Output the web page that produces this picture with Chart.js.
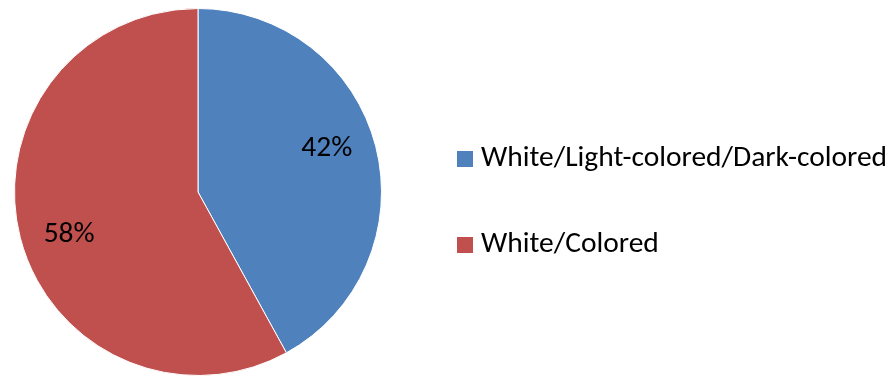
<!DOCTYPE html>
<html>
<head>
<meta charset="utf-8">
<script src="https://cdn.jsdelivr.net/npm/chart.js@4"></script>
<style>
  html, body { margin: 0; padding: 0; background: #fff; }
  #wrap { width: 896px; height: 381px; position: relative; }
</style>
</head>
<body>
<div id="wrap"><canvas id="pie"></canvas></div>
<script>
var categories = ["White/Light-colored/Dark-colored", "White/Colored"];
var shares = [42, 58];
var sliceColors = ["#4F81BD", "#C0504D"];

var FONT = "Carlito, 'Open Sans', sans-serif";

// percentage labels inside slices
var sliceLabels = {
    id: "sliceLabels",
    afterDatasetsDraw: function (chart) {
        var ctx = chart.ctx;
        var meta = chart.getDatasetMeta(0);
        ctx.save();
        ctx.font = "29.5px " + FONT;
        ctx.fillStyle = "#000";
        ctx.textAlign = "center";
        ctx.textBaseline = "middle";
        for (var i = 0; i < meta.data.length; i++) {
            var arc = meta.data[i];
            var mid = (arc.startAngle + arc.endAngle) / 2 - 0.07;
            var r = arc.outerRadius * 0.74;
            var x = arc.x + Math.cos(mid) * r;
            var y = arc.y + Math.sin(mid) * r;
            ctx.fillText(shares[i] + "%", x, y);
        }
        ctx.restore();
    }
};

// legend at the right, drawn by hand to keep the wide spacing
var sideLegend = {
    id: "sideLegend",
    afterDraw: function (chart) {
        var ctx = chart.ctx;
        ctx.save();
        ctx.font = "29.5px " + FONT;
        ctx.textBaseline = "middle";
        ctx.textAlign = "left";
        for (var i = 0; i < categories.length; i++) {
            var y = 159 + i * 86;
            ctx.fillStyle = sliceColors[i];
            ctx.fillRect(457, y - 8, 16, 16);
            ctx.fillStyle = "#000";
            ctx.fillText(categories[i], 481, y);
        }
        ctx.restore();
    }
};

var chart = new Chart(document.getElementById("pie"), {
    type: "pie",
    data: {
        labels: categories,
        datasets: [{
            data: shares,
            backgroundColor: sliceColors,
            borderColor: "#ffffff",
            borderWidth: 1
        }]
    },
    options: {
        responsive: true,
        maintainAspectRatio: false,
        animation: false,
        layout: { padding: { left: 14, right: 514, top: 8, bottom: 5 } },
        plugins: {
            legend: { display: false },
            tooltip: { enabled: false }
        }
    },
    plugins: [sliceLabels, sideLegend]
});
</script>
</body>
</html>
